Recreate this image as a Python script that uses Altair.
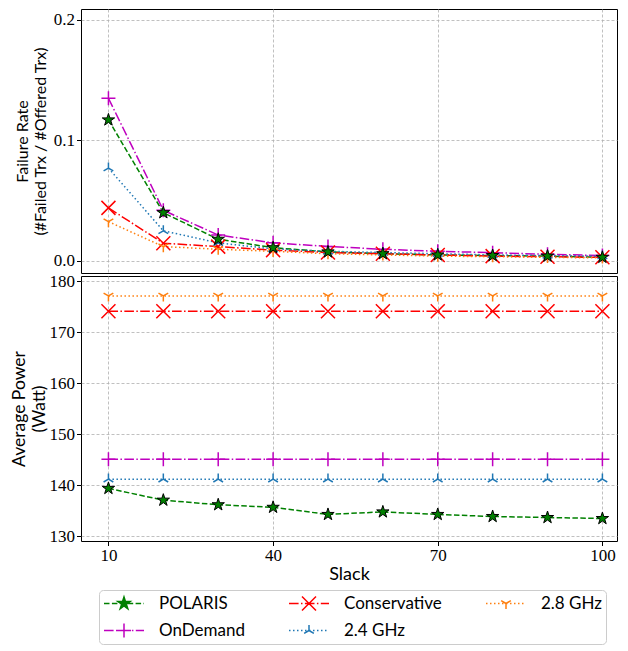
import altair as alt
import pandas as pd
import numpy as np

# ---------------- data ----------------
slack = [10, 20, 30, 40, 50, 60, 70, 80, 90, 100]
series_names = ["POLARIS", "OnDemand", "Conservative", "2.4 GHz", "2.8 GHz"]

failure_polaris = [0.117, 0.040, 0.018, 0.011, 0.0075, 0.006, 0.005, 0.0045, 0.004, 0.003]
failure_ondemand = [0.135, 0.042, 0.0215, 0.015, 0.012, 0.0097, 0.008, 0.0069, 0.0055, 0.0045]
failure_conservative = [0.044, 0.0147, 0.0119, 0.009, 0.007, 0.006, 0.005, 0.004, 0.0035, 0.003]
failure_24 = [0.077, 0.025, 0.015, 0.010, 0.008, 0.007, 0.006, 0.005, 0.0045, 0.004]
failure_28 = [0.0326, 0.0119, 0.0097, 0.008, 0.006, 0.005, 0.004, 0.0035, 0.003, 0.0025]

power_polaris = [139.4, 137.1, 136.2, 135.7, 134.3, 134.8, 134.3, 133.9, 133.7, 133.5]
power_ondemand = [145.1, 145.1, 145.1, 145.1, 145.1, 145.1, 145.1, 145.1, 145.1, 145.1]
power_conservative = [174.1, 174.1, 174.1, 174.1, 174.1, 174.1, 174.1, 174.1, 174.1, 174.1]
power_24 = [141.2, 141.2, 141.2, 141.2, 141.2, 141.2, 141.2, 141.2, 141.2, 141.2]
power_28 = [177.1, 177.1, 177.1, 177.1, 177.1, 177.1, 177.1, 177.1, 177.1, 177.1]

failure = dict(zip(series_names, [failure_polaris, failure_ondemand, failure_conservative, failure_24, failure_28]))
power = dict(zip(series_names, [power_polaris, power_ondemand, power_conservative, power_24, power_28]))

rows = []
for name in series_names:
    for s, f, p in zip(slack, failure[name], power[name]):
        rows.append({"series": name, "slack": s, "failure": f, "power": p})
df = pd.DataFrame(rows)

# ---------------- styles ----------------
colors = {"POLARIS": "#008000", "OnDemand": "#bf00bf", "Conservative": "#ff0000",
          "2.4 GHz": "#1f77b4", "2.8 GHz": "#ff7f0e"}
dashes = {"POLARIS": [5.5, 2.4], "OnDemand": [9.6, 2.4, 1.5, 2.4], "Conservative": [9.6, 2.4, 1.5, 2.4],
          "2.4 GHz": [1.5, 2.5], "2.8 GHz": [1.5, 2.5]}


def star_polys():
    pts = []
    for k in range(10):
        r = 1.0 if k % 2 == 0 else 0.382
        a = np.deg2rad(-90 + 36 * k)
        pts.append((r * np.cos(a), r * np.sin(a)))
    return [(pts, True)]


marker_polys = {
    "POLARIS": star_polys(),
    "OnDemand": [([(-1, 0), (1, 0)], False), ([(0, -1), (0, 1)], False)],
    "Conservative": [([(-1, -1), (1, 1)], False), ([(-1, 1), (1, -1)], False)],
    "2.4 GHz": [([(0, 0), (0, -1)], False), ([(0, 0), (-0.866, 0.5)], False), ([(0, 0), (0.866, 0.5)], False)],
    "2.8 GHz": [([(0, 0), (0, 1)], False), ([(0, 0), (-0.866, -0.5)], False), ([(0, 0), (0.866, -0.5)], False)],
}
marker_r = {"POLARIS": 6.5, "OnDemand": 7.0, "Conservative": 7.0, "2.4 GHz": 5.6, "2.8 GHz": 5.6}


def poly_path(polys, scale):
    parts = []
    for pts, closed in polys:
        s = "M" + "L".join(f"{x * scale:.4f},{y * scale:.4f}" for x, y in pts)
        if closed:
            s += "Z"
        parts.append(s)
    return "".join(parts)


def dash_path(pattern, half_px):
    segs = []
    pos = -half_px
    on = True
    i = 0
    while pos < half_px - 1e-9:
        L = pattern[i % len(pattern)]
        end = min(pos + L, half_px)
        if on:
            segs.append(f"M{pos / half_px:.4f},0L{end / half_px:.4f},0")
        pos = end
        on = not on
        i += 1
    return "".join(segs)


LEG_HALF = 20.0
legend_order = ["POLARIS", "OnDemand", "Conservative", "2.4 GHz", "2.8 GHz"]
legend_paths = [dash_path(dashes[n], LEG_HALF) + poly_path(marker_polys[n], marker_r[n] / LEG_HALF)
                for n in legend_order]
legend_strokes = [colors[n] for n in legend_order]
legend_fills = ["#008000" if n == "POLARIS" else "transparent" for n in legend_order]

SERIF = "Liberation Serif"
SANS = "Lato"
X_DOMAIN = [5.0, 102.66]
W = 536


def make_panel(field, ydomain, yvalues, yfmt, ytitle, ytitle_size, ytitle_pad, bottom, height):
    xaxis_kw = dict(values=[10, 40, 70, 100], grid=True, domain=False)
    if bottom:
        xaxis_kw.update(title="Slack", titleFont=SANS, titleFontSize=18, titleFontWeight="normal",
                        titlePadding=2, labelFont=SERIF, labelFontSize=17, ticks=True, tickSize=4.5,
                        labelPadding=2)
    else:
        xaxis_kw.update(title=None, labels=False, ticks=False)
    x = alt.X("slack:Q", scale=alt.Scale(domain=X_DOMAIN, nice=False, zero=False),
              axis=alt.Axis(**xaxis_kw))
    y = alt.Y(f"{field}:Q", scale=alt.Scale(domain=ydomain, nice=False, zero=False),
              axis=alt.Axis(values=yvalues, format=yfmt, title=ytitle, titleFont=SANS,
                            titleFontSize=ytitle_size, titleFontWeight="normal",
                            titlePadding=ytitle_pad, labelFont=SERIF, labelFontSize=17,
                            tickSize=4.5, labelPadding=2, minExtent=30, maxExtent=30,
                            domain=False, grid=True))
    base = alt.Chart(df)
    line = base.mark_line(strokeWidth=1.5).encode(
        x=x, y=y,
        color=alt.Color("series:N", scale=alt.Scale(domain=series_names, range=[colors[n] for n in series_names]),
                        legend=None),
        strokeDash=alt.StrokeDash("series:N", scale=alt.Scale(domain=series_names,
                                                              range=[dashes[n] for n in series_names]),
                                  legend=None),
        detail="series:N",
    )
    layers = [line]
    for n in ["OnDemand", "Conservative", "2.4 GHz", "2.8 GHz", "POLARIS"]:
        r = marker_r[n]
        path = poly_path(marker_polys[n], 1.0)
        if n == "POLARIS":
            mk = dict(filled=True, fill=colors[n], stroke="black", strokeWidth=1.0)
        else:
            mk = dict(filled=False, stroke=colors[n], strokeWidth=1.5)
        layers.append(base.transform_filter(alt.datum.series == n).mark_point(
            shape=path, size=(2 * r) ** 2, opacity=1, **mk).encode(x=x, y=y))
    if bottom:
        leg = alt.Legend(title=None, orient="none", legendX=18, legendY=314, columns=3,
                         columnPadding=43, rowPadding=8, clipHeight=19, labelOffset=14,
                         labelFont=SANS, labelFontSize=17, labelColor="black",
                         symbolSize=(2 * LEG_HALF) ** 2, symbolStrokeWidth=1.5, symbolOpacity=1,
                         strokeColor="#cccccc", cornerRadius=4, fillColor="white", padding=4)
        legend_layer = base.transform_filter("false").mark_point(opacity=1, strokeWidth=1.5).encode(
            x=x, y=y,
            shape=alt.Shape("series:N", scale=alt.Scale(domain=legend_order, range=legend_paths), legend=leg),
            stroke=alt.Stroke("series:N", scale=alt.Scale(domain=legend_order, range=legend_strokes), legend=leg),
            fill=alt.Fill("series:N", scale=alt.Scale(domain=legend_order, range=legend_fills), legend=leg),
        )
        layers.append(legend_layer)
    return alt.layer(*layers).properties(width=W, height=height)


top = make_panel("failure", [-0.01, 0.209], [0.0, 0.1, 0.2], ".1f",
                 ["Failure Rate", "(#Failed Trx / #Offered Trx)"], 16, 3, False, 264)
bottom = make_panel("power", [129.1, 181.0], [130, 140, 150, 160, 170, 180], "d",
                    ["Average Power", "(Watt)"], 17.5, 3, True, 265)

chart = alt.vconcat(top, bottom, spacing=3, bounds="flush").resolve_scale(
    shape="independent", stroke="independent", fill="independent"
).resolve_legend(
    shape="independent", stroke="independent", fill="independent"
).properties(
    padding={"left": 2, "top": 0, "right": 0, "bottom": 0}
).configure_view(stroke="black", strokeWidth=1).configure_axis(
    gridColor="#b0b0b0", gridDash=[3, 2], gridWidth=0.8, tickColor="black", labelColor="black",
    titleColor="black", tickWidth=1
)

chart.save("out.html", embed_options={"renderer": "svg", "actions": False})
